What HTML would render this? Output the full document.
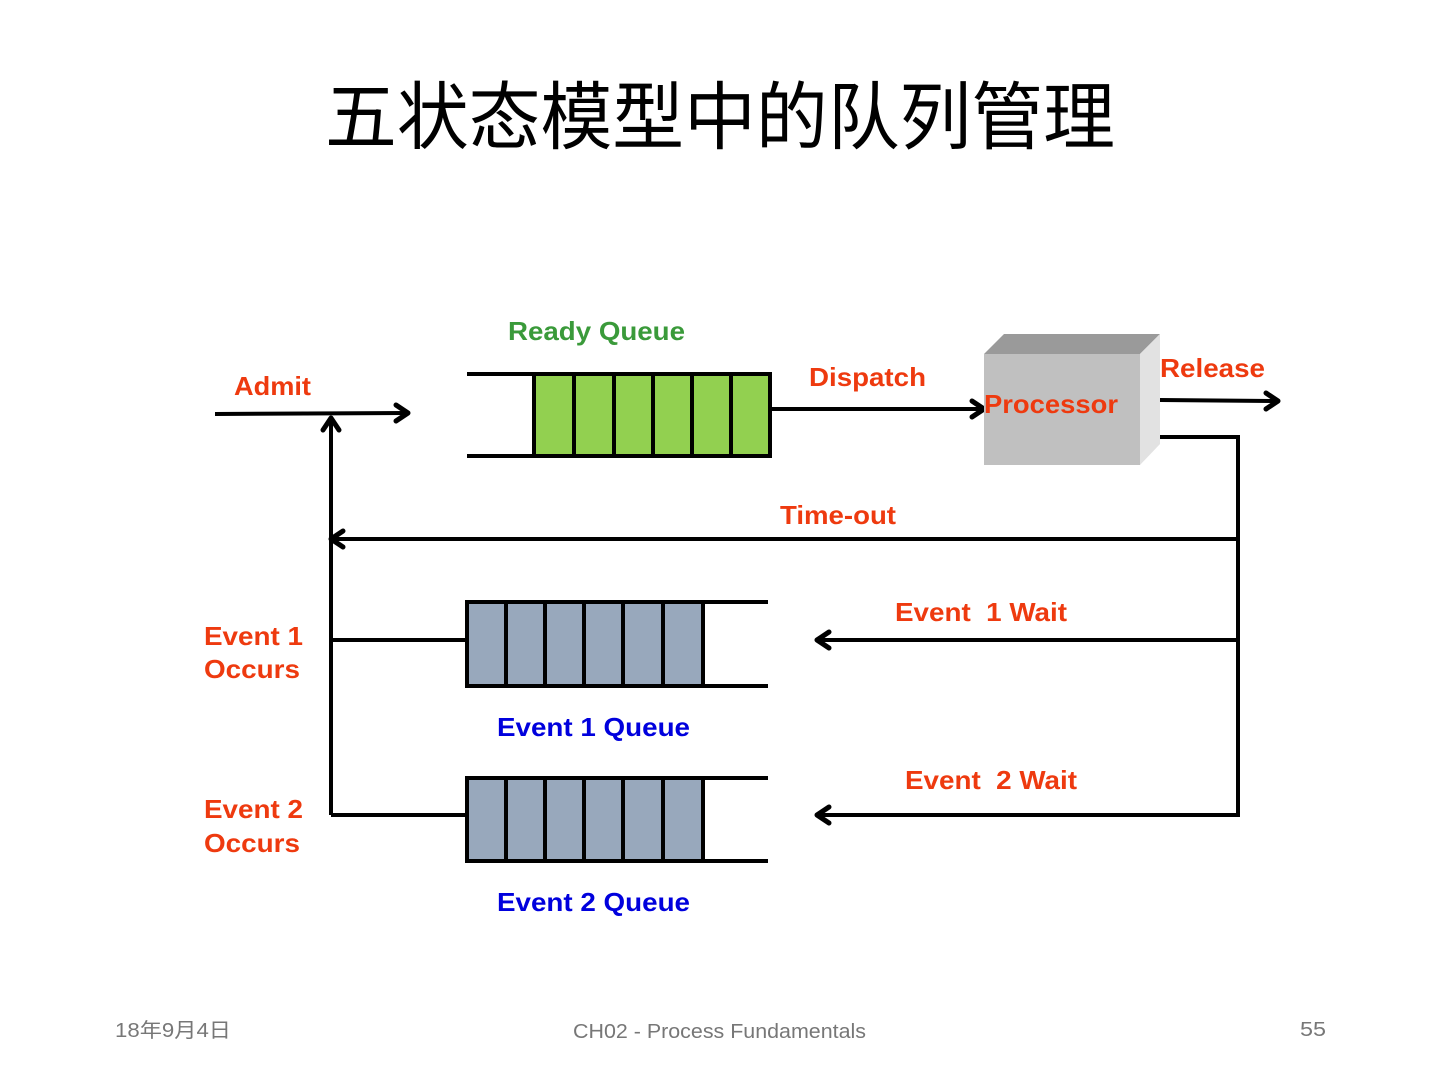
<!DOCTYPE html>
<html><head><meta charset="utf-8"><style>
html,body{margin:0;padding:0;background:#fff;}
svg{display:block;}
</style></head><body>
<svg width="1440" height="1080" viewBox="0 0 1440 1080" xmlns="http://www.w3.org/2000/svg">
<text x="325" y="143" textLength="790" lengthAdjust="spacingAndGlyphs" font-family="'Liberation Sans','Noto Sans CJK SC',sans-serif" font-size="74" fill="#000">五状态模型中的队列管理</text>

<g stroke="#000" stroke-width="4" fill="none">
<line x1="215" y1="414" x2="406" y2="413"/>
<line x1="331" y1="815" x2="331" y2="420"/>
<line x1="467" y1="374" x2="534" y2="374"/>
<line x1="467" y1="456" x2="534" y2="456"/>
<line x1="770" y1="409" x2="983" y2="409"/>
<line x1="1160" y1="400" x2="1277" y2="401"/>
<polyline points="1160,437 1238,437 1238,815 818,815"/>
<line x1="1238" y1="539" x2="333" y2="539"/>
<line x1="1238" y1="640" x2="818" y2="640"/>
<line x1="331" y1="640" x2="467" y2="640"/>
<line x1="331" y1="815" x2="467" y2="815"/>
<line x1="703" y1="602" x2="768" y2="602"/>
<line x1="703" y1="686" x2="768" y2="686"/>
<line x1="703" y1="778" x2="768" y2="778"/>
<line x1="703" y1="861" x2="768" y2="861"/>
</g>
<!-- arrowheads (chevrons) -->
<g stroke="#000" stroke-width="5" fill="none" stroke-linecap="round" stroke-linejoin="round">
<polyline points="396,405 408,413 396,421"/>
<polyline points="323,430 331,418 339,430"/>
<polyline points="972,401 984,409 972,417"/>
<polyline points="1266,393 1278,401 1266,409"/>
<polyline points="343,531 331,539 343,547"/>
<polyline points="829,632 817,640 829,648"/>
<polyline points="829,807 817,815 829,823"/>
</g>

<!-- ready queue -->
<rect x="534" y="374" width="236" height="82" fill="#92d050" stroke="#000" stroke-width="4"/>
<g stroke="#000" stroke-width="4">
<line x1="574" y1="374" x2="574" y2="456"/><line x1="614" y1="374" x2="614" y2="456"/>
<line x1="653" y1="374" x2="653" y2="456"/><line x1="692" y1="374" x2="692" y2="456"/>
<line x1="731" y1="374" x2="731" y2="456"/>
</g>

<!-- event queues -->
<rect x="467" y="602" width="236" height="84" fill="#98a8bc" stroke="#000" stroke-width="4"/>
<rect x="467" y="778" width="236" height="83" fill="#98a8bc" stroke="#000" stroke-width="4"/>
<g stroke="#000" stroke-width="4">
<line x1="506" y1="602" x2="506" y2="686"/><line x1="545" y1="602" x2="545" y2="686"/>
<line x1="584" y1="602" x2="584" y2="686"/><line x1="623" y1="602" x2="623" y2="686"/>
<line x1="663" y1="602" x2="663" y2="686"/>
<line x1="506" y1="778" x2="506" y2="861"/><line x1="545" y1="778" x2="545" y2="861"/>
<line x1="584" y1="778" x2="584" y2="861"/><line x1="623" y1="778" x2="623" y2="861"/>
<line x1="663" y1="778" x2="663" y2="861"/>
</g>

<!-- processor -->
<polygon points="984,354 1004,334 1160,334 1140,354" fill="#9a9a9a"/>
<polygon points="1140,354 1160,334 1160,444 1140,465" fill="#e2e2e2"/>
<rect x="984" y="354" width="156" height="111" fill="#c0c0c0"/>

<g font-family="'Liberation Sans',sans-serif" font-weight="bold" font-size="26" lengthAdjust="spacingAndGlyphs">
<text x="508" y="340" fill="#3a9a3a" textLength="177" lengthAdjust="spacingAndGlyphs">Ready Queue</text>
<text x="234" y="395" fill="#ee3a0f" textLength="77" lengthAdjust="spacingAndGlyphs">Admit</text>
<text x="809" y="386" fill="#ee3a0f" textLength="117" lengthAdjust="spacingAndGlyphs">Dispatch</text>
<text x="984" y="413" fill="#ee3a0f" textLength="134" lengthAdjust="spacingAndGlyphs">Processor</text>
<text x="1160" y="377" fill="#ee3a0f" textLength="105" lengthAdjust="spacingAndGlyphs">Release</text>
<text x="780" y="524" fill="#ee3a0f" textLength="116" lengthAdjust="spacingAndGlyphs">Time-out</text>
<text x="895" y="621" fill="#ee3a0f" xml:space="preserve" textLength="172" lengthAdjust="spacingAndGlyphs">Event  1 Wait</text>
<text x="905" y="789" fill="#ee3a0f" xml:space="preserve" textLength="172" lengthAdjust="spacingAndGlyphs">Event  2 Wait</text>
<text x="204" y="645" fill="#ee3a0f" textLength="99" lengthAdjust="spacingAndGlyphs">Event 1</text>
<text x="204" y="678" fill="#ee3a0f" textLength="96" lengthAdjust="spacingAndGlyphs">Occurs</text>
<text x="204" y="818" fill="#ee3a0f" textLength="99" lengthAdjust="spacingAndGlyphs">Event 2</text>
<text x="204" y="852" fill="#ee3a0f" textLength="96" lengthAdjust="spacingAndGlyphs">Occurs</text>
<text x="497" y="736" fill="#0000dd" textLength="193" lengthAdjust="spacingAndGlyphs">Event 1 Queue</text>
<text x="497" y="911" fill="#0000dd" textLength="193" lengthAdjust="spacingAndGlyphs">Event 2 Queue</text>
</g>

<g font-family="'Liberation Sans','Noto Sans CJK SC',sans-serif" font-size="20" fill="#777">
<text x="115" y="1037" textLength="116" lengthAdjust="spacingAndGlyphs">18年9月4日</text>
<text x="573" y="1038" textLength="293" lengthAdjust="spacingAndGlyphs">CH02 - Process Fundamentals</text>
<text x="1300" y="1036" textLength="26" lengthAdjust="spacingAndGlyphs">55</text>
</g>
</svg>
</body></html>
